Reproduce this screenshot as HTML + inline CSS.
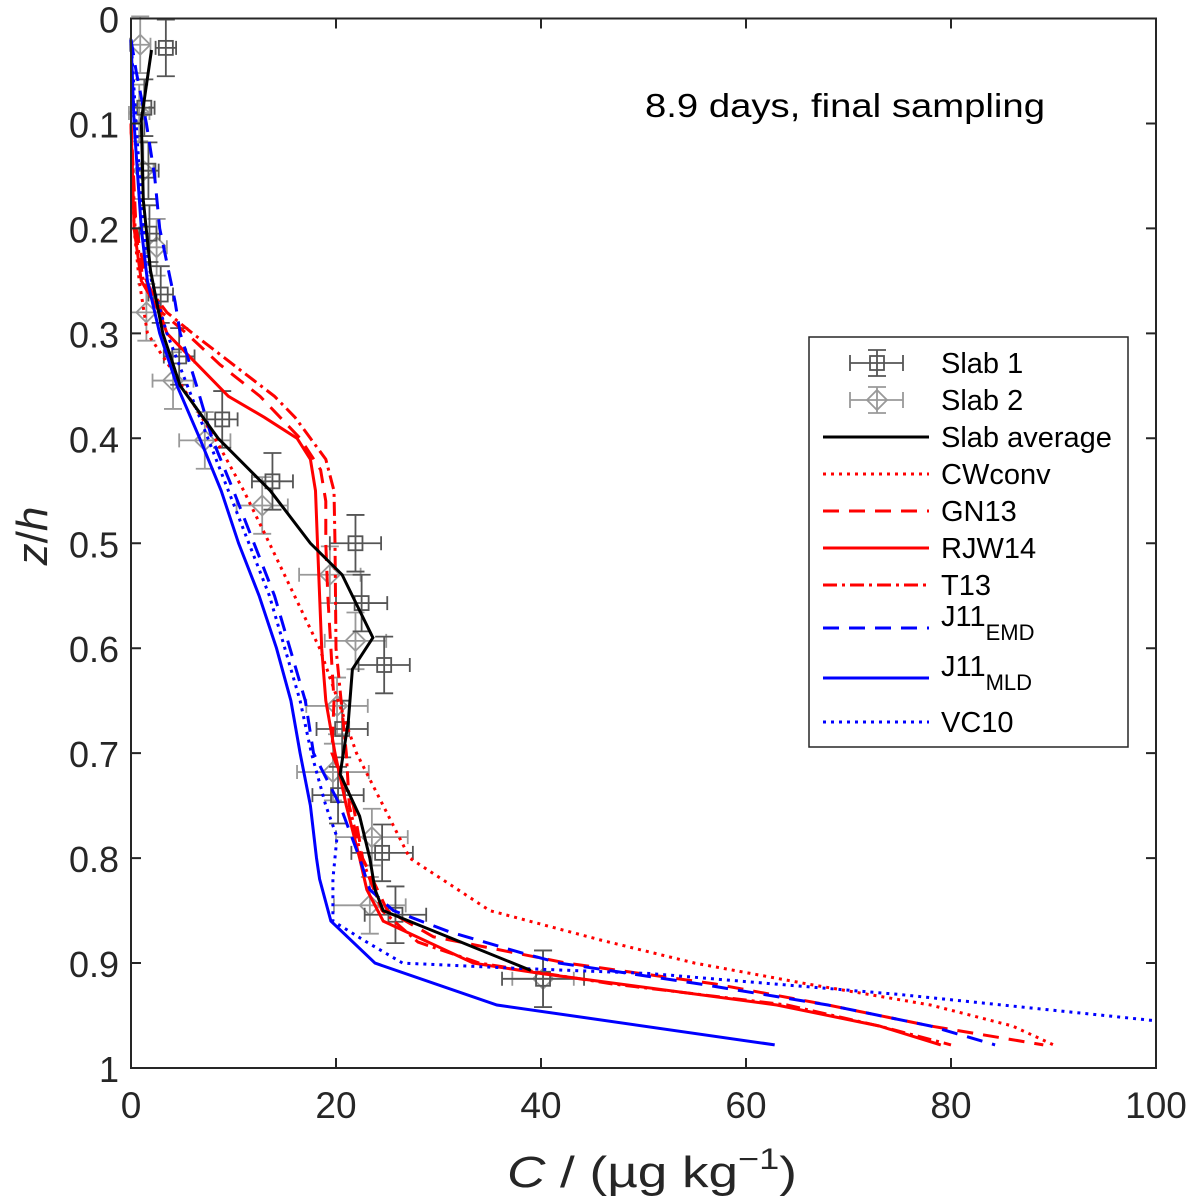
<!DOCTYPE html>
<html><head><meta charset="utf-8"><style>
body{margin:0;background:#fff;}
svg{display:block;font-family:"Liberation Sans","DejaVu Sans",sans-serif;}
</style></head><body>
<svg id="chart" width="1197" height="1200" viewBox="0 0 1197 1200" xmlns="http://www.w3.org/2000/svg">
<rect width="1197" height="1200" fill="#fff"/>
<g id="marks"></g>
<g id="axes"></g>
<text x="645" y="117" font-size="33" textLength="400" lengthAdjust="spacingAndGlyphs" fill="#000">8.9 days, final sampling</text>
<text x="507" y="1187" font-size="44" textLength="290" lengthAdjust="spacingAndGlyphs" fill="#262626"><tspan font-style="italic">C</tspan> / (µg kg<tspan font-size="30" dy="-18">−1</tspan><tspan dy="18">)</tspan></text>
<text transform="translate(47,536) rotate(-90)" text-anchor="middle" font-size="44" fill="#262626"><tspan font-style="italic">z</tspan>/<tspan font-style="italic">h</tspan></text>
<g id="legend"></g>
</svg>
<script>
const xTicks=[0,20,40,60,80,100];
const yTicks=[0,0.1,0.2,0.3,0.4,0.5,0.6,0.7,0.8,0.9,1];
const yTickLabels=["0","0.1","0.2","0.3","0.4","0.5","0.6","0.7","0.8","0.9","1"];
const slab1C=[3.4,1.3,1.7,1.8,2.9,4.7,8.9,13.8,21.9,22.5,24.7,20.6,20.2,24.5,25.8,40.2];
const slab1Z=[0.028,0.085,0.145,0.205,0.263,0.322,0.382,0.441,0.5,0.557,0.616,0.677,0.74,0.795,0.854,0.915];
const slab1Cerr=[1,1,1,1,1.2,1.5,1.5,2,2.5,2.5,2.5,2.5,2.5,3,3,4];
const slab1Zerr=[0.027,0.027,0.027,0.027,0.027,0.027,0.027,0.027,0.027,0.027,0.027,0.027,0.027,0.027,0.027,0.027];
const slab2C=[0.9,0.8,1.2,2.5,1.5,4.1,7.2,12.8,19.4,21.9,20.1,19.7,23.5,23.3,40.2];
const slab2Z=[0.025,0.09,0.145,0.218,0.28,0.345,0.402,0.464,0.53,0.593,0.655,0.718,0.78,0.845,0.915];
const slab2Cerr=[1,1,1,1,1.5,2,2.5,2.5,3,3,3,3.5,3.5,3.5,3];
const slab2Zerr=[0.027,0.027,0.027,0.027,0.027,0.027,0.027,0.027,0.027,0.027,0.027,0.027,0.027,0.027,0.027];
const avgC=[2.0,1.0,1.2,1.9,3.1,4.8,8.5,13.6,17.5,20.6,23.6,21.6,21.2,20.4,22.3,23.3,23.8,24.6,39];
const avgZ=[0.03,0.097,0.173,0.24,0.3,0.35,0.4,0.45,0.5,0.53,0.59,0.62,0.67,0.72,0.76,0.8,0.83,0.85,0.907];
const cwZ=[0.1,0.2,0.25,0.3,0.332,0.4,0.45,0.5,0.6,0.7,0.75,0.8,0.85,0.878,0.9,0.92,0.94,0.96,0.978];
const cwC=[0,0.3,0.8,1.6,3.8,8.2,11,13.5,18.4,22,24.6,27.2,35,45.8,55,66,78,86,90];
const gnZ=[0.1,0.2,0.25,0.28,0.3,0.33,0.36,0.4,0.43,0.46,0.5,0.55,0.6,0.65,0.7,0.75,0.8,0.85,0.875,0.9,0.92,0.94,0.96,0.978];
const gnC=[0,0.5,1.5,3,5.4,8.7,12.6,16.5,18.5,19,19,19.2,19.5,19.8,19.6,21.7,22.6,25,29.5,42.5,57,68,78,89];
const rjwZ=[0.1,0.2,0.25,0.28,0.3,0.33,0.36,0.38,0.4,0.42,0.45,0.5,0.6,0.65,0.7,0.75,0.8,0.83,0.86,0.9,0.91,0.92,0.94,0.96,0.978];
const rjwC=[0,0.3,1,2.8,3.5,6.5,9.5,13,16.2,17.5,18,18.2,18.6,19,19.9,21,22.3,23,24.6,33.4,40,47.7,63,73,79];
const t13Z=[0.1,0.2,0.25,0.28,0.3,0.33,0.36,0.38,0.4,0.42,0.45,0.5,0.6,0.65,0.7,0.75,0.8,0.85,0.88,0.9,0.92,0.94,0.96,0.978];
const t13C=[0,0.4,1.2,3.5,6,10,14,16,17.5,19,19.8,19.9,20,20.5,21,21.3,22.5,24.5,28,34,47,64,73,80];
const emdZ=[0.02,0.05,0.1,0.15,0.2,0.27,0.3,0.35,0.4,0.45,0.5,0.55,0.6,0.65,0.7,0.75,0.8,0.83,0.85,0.87,0.89,0.9,0.92,0.94,0.96,0.978];
const emdC=[0,0.5,1.5,2.3,2.8,4.3,4.8,6.4,7.9,10,12,14,15.5,17,17.8,20.4,22.3,23.3,25.6,31,38,41.8,55.5,68,78,84.3];
const mldZ=[0.02,0.1,0.2,0.25,0.3,0.35,0.4,0.45,0.5,0.55,0.6,0.65,0.7,0.75,0.8,0.82,0.86,0.9,0.94,0.978];
const mldC=[0,0.3,1,1.6,2.8,4.5,6.7,8.8,10.5,12.5,14.2,15.6,16.5,17.5,18.1,18.4,19.5,23.8,35.7,62.8];
const vcZ=[0.02,0.1,0.2,0.25,0.3,0.35,0.4,0.45,0.5,0.55,0.6,0.65,0.7,0.75,0.78,0.82,0.86,0.88,0.9,0.905,0.91,0.93,0.955];
const vcC=[0,0.5,1.2,2,3.5,5.5,7.5,9.5,11.5,13.5,15,16.5,17.6,19,20.1,19.7,19.7,23,26.5,37.6,50.6,75,100];

const NS="http://www.w3.org/2000/svg";
const X0=131,X1=1156,Y0=18.5,Y1=1068;
function sx(c){return X0+(c/100)*(X1-X0);}
function sy(z){return Y0+z*(Y1-Y0);}
function mk(tag,attrs,parent){const e=document.createElementNS(NS,tag);for(const k in attrs)e.setAttribute(k,attrs[k]);parent.appendChild(e);return e;}
const marks=document.getElementById('marks');
const axes=document.getElementById('axes');
const legend=document.getElementById('legend');

function errPts(C,Z,Ce,Ze,color,shape,name){
  const g=mk('g',{},marks);
  
  
  for(let i=0;i<C.length;i++){
    const x=sx(C[i]),y=sy(Z[i]);
    const xa=sx(C[i]-Ce[i]),xb=sx(C[i]+Ce[i]),ya=sy(Z[i]-Ze[i]),yb=sy(Z[i]+Ze[i]);
    const p=mk('path',{d:`M${xa},${y}H${xb}M${xa},${y-7}V${y+7}M${xb},${y-7}V${y+7}M${x},${ya}V${yb}M${x-9},${ya}H${x+9}M${x-9},${yb}H${x+9}`,stroke:color,'stroke-width':1.8,fill:'none'},g);
    
    
    let m;
    if(shape==='sq') m=mk('rect',{x:x-7,y:y-7,width:14,height:14,stroke:color,'stroke-width':1.8,fill:'none'},g);
    else m=mk('path',{d:`M${x},${y-10}L${x+10},${y}L${x},${y+10}L${x-10},${y}Z`,stroke:color,'stroke-width':1.8,fill:'none'},g);
    
    
  }
}
function line(C,Z,color,dash,name){
  const d=C.map((c,i)=>(i?'L':'M')+sx(c).toFixed(1)+','+sy(Z[i]).toFixed(1)).join('');
  const p=mk('path',{d:d,stroke:color,'stroke-width':3,fill:'none','stroke-dasharray':dash},marks);
  
  
}
errPts(slab2C,slab2Z,slab2Cerr,slab2Zerr,'#999','di','slab2-points');
errPts(slab1C,slab1Z,slab1Cerr,slab1Zerr,'#555','sq','slab1-points');
line(cwC,cwZ,'#f00','3 5','cwconv-line');
line(gnC,gnZ,'#f00','16 10','gn13-line');
line(rjwC,rjwZ,'#f00','none','rjw14-line');
line(t13C,t13Z,'#f00','14 5 3 5','t13-line');
line(emdC,emdZ,'#00f','16 10','j11-emd-line');
line(mldC,mldZ,'#00f','none','j11-mld-line');
line(vcC,vcZ,'#00f','3 5','vc10-line');
line(avgC,avgZ,'#000','none','slab-average-line');

const frame=mk('rect',{x:X0,y:Y0,width:X1-X0,height:Y1-Y0,fill:'none',stroke:'#262626','stroke-width':2},axes);


xTicks.forEach(v=>{
  const x=sx(v);
  const t=mk('path',{d:`M${x},${Y1}V${Y1-10}M${x},${Y0}V${Y0+10}`,stroke:'#262626','stroke-width':2},axes);
  
  
  const l=mk('text',{x:x,y:1118,'text-anchor':'middle','font-size':37,fill:'#262626'},axes);
  l.textContent=String(v);
  
  
});
yTicks.forEach((v,i)=>{
  const y=sy(v);
  const t=mk('path',{d:`M${X0},${y}H${X0+10}M${X1},${y}H${X1-10}`,stroke:'#262626','stroke-width':2},axes);
  
  
  const l=mk('text',{x:119,y:y+14,'text-anchor':'end','font-size':36,fill:'#262626'},axes);
  l.textContent=yTickLabels[i];
  
  
});

// legend
const lb=mk('rect',{x:809,y:337,width:319,height:410,fill:'#fff',stroke:'#262626','stroke-width':1.5},legend);


const entries=[['Slab 1',363,'#555','sq'],['Slab 2',400,'#999','di'],['Slab average',437,'#000','none'],['CWconv',474,'#f00','3 5'],['GN13',511,'#f00','16 10'],['RJW14',548,'#f00','none'],['T13',585,'#f00','14 5 3 5'],['J11',628,'#00f','16 10','EMD'],['J11',678,'#00f','none','MLD'],['VC10',722,'#00f','3 5']];
entries.forEach(e=>{
  const g=mk('g',{},legend);
  
  
  const y=e[1];
  if(e[3]==='sq'||e[3]==='di'){
    mk('path',{d:`M850,${y}H903M850,${y-8}V${y+8}M903,${y-8}V${y+8}M877,${y-13}V${y+13}M868,${y-13}H886M868,${y+13}H886`,stroke:e[2],'stroke-width':1.8,fill:'none'},g);
    if(e[3]==='sq') mk('rect',{x:870,y:y-7,width:14,height:14,stroke:e[2],'stroke-width':1.8,fill:'none'},g);
    else mk('path',{d:`M877,${y-10}L887,${y}L877,${y+10}L867,${y}Z`,stroke:e[2],'stroke-width':1.8,fill:'none'},g);
  } else {
    mk('path',{d:`M823,${y}H929`,stroke:e[2],'stroke-width':3,'stroke-dasharray':e[3]},g);
  }
  const t=mk('text',{x:941,y:y+(e[4]?-2:10),'font-size':29,fill:'#000'},g);
  t.textContent=e[0];
  if(e[4]){const s=mk('tspan',{dy:14,'font-size':22},t);s.textContent=e[4];}
});
</script>
</body></html>
